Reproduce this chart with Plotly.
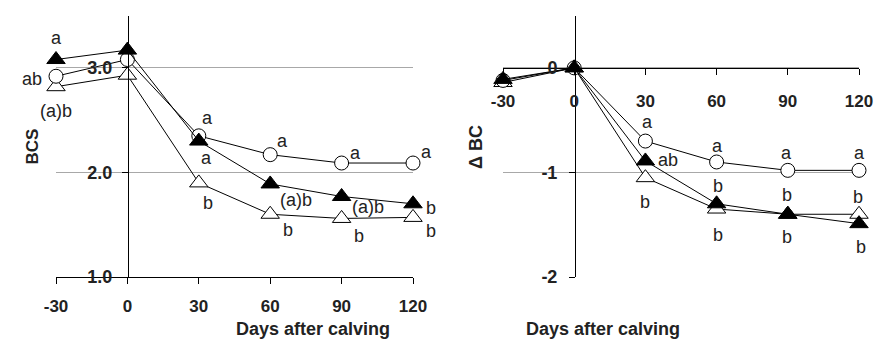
import plotly.graph_objects as go

# ---------------- data ----------------
days = [-30, 0, 30, 60, 90, 120]
day_ticks = ["-30", "0", "30", "60", "90", "120"]

bcs_open_tri = [2.82, 2.93, 1.90, 1.60, 1.56, 1.57]
bcs_circle = [2.92, 3.08, 2.35, 2.17, 2.09, 2.09]
bcs_filled_tri = [3.08, 3.17, 2.30, 1.89, 1.77, 1.70]
bcs_tick_vals = [1, 2, 3]
bcs_tick_text = ["1.0", "2.0", "3.0"]

dbc_open_tri = [-0.14, 0.0, -1.05, -1.35, -1.40, -1.40]
dbc_circle = [-0.12, 0.0, -0.70, -0.90, -0.98, -0.98]
dbc_filled_tri = [-0.11, 0.0, -0.89, -1.30, -1.40, -1.49]
dbc_tick_vals = [-2, -1, 0]
dbc_tick_text = ["-2", "-1", "0"]

bcs_letters_open = ["(a)b", "", "b", "b", "b", "b"]
bcs_letters_circle = ["ab", "", "a", "a", "a", "a"]
bcs_letters_filled = ["a", "", "a", "(a)b", "(a)b", "b"]

dbc_letters_open = ["", "", "b", "b", "b", "b"]
dbc_letters_circle = ["", "", "a", "a", "a", "a"]
dbc_letters_filled = ["", "", "ab", "b", "b", "b"]

# ---------------- layout helpers (pixel geometry) ----------------
W, H = 874, 340
FONT = "Liberation Sans, Arial, sans-serif"
TXT = "#222222"
GRID = "#a8a8a8"

yd = [(H - 277) / H, (H - 15.6) / H]
xd1 = [56 / W, 413 / W]
xd2 = [503 / W, 859 / W]

# letter offsets (dx, dy in screen px) per series and point
off_bcs_open = [(0, 24), None, (9, 20), (18, 16), (17, 18), (18, 14)]
off_bcs_circle = [(-24, 3), None, (9, -18), (12, -14), (14, -10), (13, -11)]
off_bcs_filled = [(0, -22), None, (8, 17), (26, 16), (26, 11), (18, 4)]

off_dbc_open = [None, None, (0, 24), (1, 26), (-1, -19), (-1, -17)]
off_dbc_circle = [None, None, (2, -19), (1, -16), (-1, -17), (0, -17)]
off_dbc_filled = [None, None, (23, -1), (1, -18), (-1, 23), (2, 23)]

fig = go.Figure()

styles = {
    "open": dict(symbol="triangle-up", size=16, color="white", line=dict(color="black", width=1)),
    "circle": dict(symbol="circle", size=14, color="white", line=dict(color="black", width=1)),
    "filled": dict(symbol="triangle-up", size=16, color="black", line=dict(color="black", width=1)),
}

def add_series(yvals, kind, xa, ya):
    fig.add_trace(go.Scatter(
        x=days, y=yvals, mode="lines+markers", xaxis=xa, yaxis=ya,
        line=dict(color="black", width=1), marker=styles[kind],
        cliponaxis=False, showlegend=False, hoverinfo="x+y"))

add_series(bcs_open_tri, "open", "x", "y")
add_series(bcs_circle, "circle", "x", "y")
add_series(bcs_filled_tri, "filled", "x", "y")
add_series(dbc_open_tri, "open", "x2", "y2")
add_series(dbc_circle, "circle", "x2", "y2")
add_series(dbc_filled_tri, "filled", "x2", "y2")

annotations = []

def add_letters(yvals, letters, offs, xr, yr):
    for d, v, t, o in zip(days, yvals, letters, offs):
        if not t or o is None:
            continue
        annotations.append(dict(
            x=d, y=v, xref=xr, yref=yr, text=t, showarrow=False,
            xshift=o[0], yshift=-o[1],
            font=dict(family=FONT, size=18, color=TXT)))

add_letters(bcs_open_tri, bcs_letters_open, off_bcs_open, "x", "y")
add_letters(bcs_circle, bcs_letters_circle, off_bcs_circle, "x", "y")
add_letters(bcs_filled_tri, bcs_letters_filled, off_bcs_filled, "x", "y")
add_letters(dbc_open_tri, dbc_letters_open, off_dbc_open, "x2", "y2")
add_letters(dbc_circle, dbc_letters_circle, off_dbc_circle, "x2", "y2")
add_letters(dbc_filled_tri, dbc_letters_filled, off_dbc_filled, "x2", "y2")

annotations += [
    dict(x=20 / W, y=(H - 147) / H, xref="paper", yref="paper", text="BCS",
         textangle=-90, showarrow=False,
         font=dict(family=FONT, size=17, color=TXT, weight="bold")),
    dict(x=476 / W, y=(H - 147) / H, xref="paper", yref="paper", text="Δ BC",
         textangle=-90, showarrow=False,
         font=dict(family=FONT, size=18, color=TXT, weight="bold")),
    dict(x=234.5 / W, y=0, xref="paper", yref="paper", yanchor="bottom",
         text="Days after calving", showarrow=False, borderpad=0,
         font=dict(family=FONT, size=18, color=TXT, weight="bold")),
    dict(x=681 / W, y=0, xref="paper", yref="paper", yanchor="bottom",
         text="Days after calving", showarrow=False, borderpad=0,
         font=dict(family=FONT, size=18, color=TXT, weight="bold")),
]

xtick_font = dict(family=FONT, size=17, color=TXT, weight="bold")
ytick_font = dict(family=FONT, size=18, color=TXT, weight="bold")

y2_range = [-2, 0.5]
x2_pos = yd[0] + (0 - y2_range[0]) / (y2_range[1] - y2_range[0]) * (yd[1] - yd[0])

common_x = dict(range=[-30, 120], tickvals=days, ticktext=day_ticks, showgrid=False,
                zeroline=False, showline=True, linecolor="black", linewidth=1,
                ticks="outside", ticklen=6, tickcolor="black", tickfont=xtick_font,
                automargin=False)
common_y = dict(showgrid=True, gridcolor=GRID, gridwidth=1, zeroline=False,
                showline=True, linecolor="black", linewidth=1, ticks="outside",
                ticklen=6, tickcolor="black", tickfont=ytick_font, automargin=False)

fig.update_layout(
    width=W, height=H,
    margin=dict(l=0, r=0, t=0, b=0, pad=0),
    paper_bgcolor="white", plot_bgcolor="white",
    showlegend=False,
    xaxis=dict(domain=xd1, anchor="y", ticklabelstandoff=8, **common_x),
    yaxis=dict(domain=yd, range=[1, 3.5], tickvals=bcs_tick_vals, ticktext=bcs_tick_text,
               anchor="free", position=128 / W, ticklabelstandoff=6, **common_y),
    xaxis2=dict(domain=xd2, anchor="free", position=x2_pos, ticklabelstandoff=12, **common_x),
    yaxis2=dict(domain=yd, range=y2_range, tickvals=dbc_tick_vals, ticktext=dbc_tick_text,
                anchor="free", position=575 / W, ticklabelstandoff=8, **common_y),
    annotations=annotations,
)

fig.write_html("out.html")
